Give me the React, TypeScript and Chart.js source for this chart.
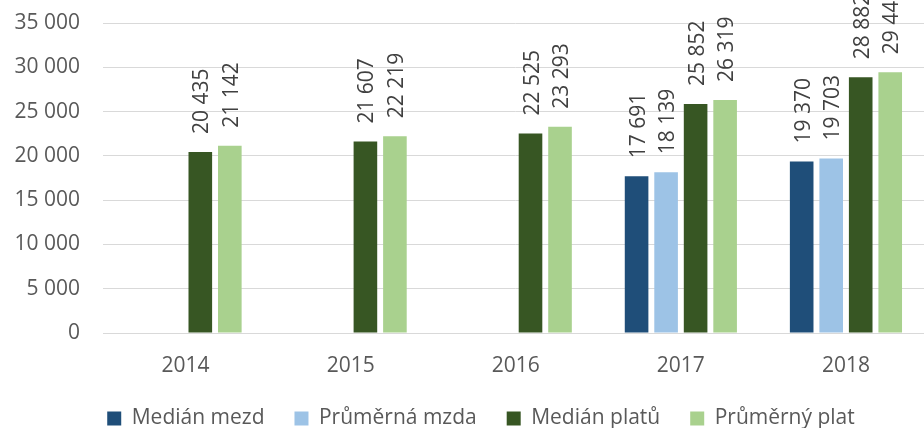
import { useEffect, useRef } from 'react';
import { Chart, registerables } from 'chart.js';

Chart.register(...registerables);

const categories = ['2014', '2015', '2016', '2017', '2018'];
const medianMezd = [null, null, null, 17691, 19370];
const prumernaMzda = [null, null, null, 18139, 19703];
const medianPlatu = [20435, 21607, 22525, 25852, 28882];
const prumernyPlat = [21142, 22219, 23293, 26319, 29446];
const seriesNames = ['Medián mezd', 'Průměrná mzda', 'Medián platů', 'Průměrný plat'];
const seriesColors = ['#1F4E79', '#9DC3E6', '#375623', '#A9D18E'];
const yMin = 0;
const yMax = 35000;
const yStep = 5000;

const FONT = '"Open Sans", Lato, sans-serif';
const FONT_SIZE = 21;

const fmt = (v: number) => String(Math.round(v)).replace(/\B(?=(\d{3})+(?!\d))/g, ' ');

const labelPlugin = {
  id: 'barValueLabels',
  afterDatasetsDraw(chart: any) {
    const ctx = chart.ctx;
    ctx.save();
    ctx.font = `${FONT_SIZE}px ${FONT}`;
    ctx.fillStyle = '#404040';
    ctx.textAlign = 'left';
    ctx.textBaseline = 'alphabetic';
    chart.data.datasets.forEach((ds: any, i: number) => {
      const meta = chart.getDatasetMeta(i);
      meta.data.forEach((bar: any, j: number) => {
        const v = ds.data[j];
        if (v === null || v === undefined) return;
        ctx.save();
        ctx.translate(bar.x + 8, bar.y - 18);
        ctx.rotate(-Math.PI / 2);
        ctx.fillText(fmt(v), 0, 0);
        ctx.restore();
      });
    });
    ctx.restore();
  },
};

export default function App() {
  const ref = useRef<HTMLCanvasElement>(null);
  useEffect(() => {
    document.body.style.margin = '0';
    const seriesData = [medianMezd, prumernaMzda, medianPlatu, prumernyPlat];
    const chart = new Chart(ref.current as HTMLCanvasElement, {
      type: 'bar',
      data: {
        labels: categories,
        datasets: seriesNames.map((name, i) => ({
          label: name,
          data: seriesData[i] as any,
          backgroundColor: seriesColors[i],
          borderWidth: 0,
          barPercentage: 0.8,
          categoryPercentage: 0.715,
        })),
      },
      options: {
        animation: false,
        responsive: false,
        devicePixelRatio: 1,
        layout: { padding: { top: 23, bottom: -11, left: 0, right: 0 } },
        plugins: {
          tooltip: { enabled: false },
          legend: {
            position: 'bottom',
            labels: {
              boxWidth: 14,
              boxHeight: 14,
              padding: 30,
              color: '#595959',
              font: { family: FONT, size: FONT_SIZE },
            },
          },
        },
        scales: {
          x: {
            grid: { display: false },
            border: { display: true, color: '#D9D9D9', width: 1 },
            ticks: {
              color: '#595959',
              font: { family: FONT, size: FONT_SIZE },
              padding: 12,
              maxRotation: 0,
            },
            afterFit: (s: any) => {
              s.height = 45;
            },
          },
          y: {
            min: yMin,
            max: yMax,
            grid: { color: '#D9D9D9', lineWidth: 1, drawTicks: false },
            border: { display: false },
            ticks: {
              stepSize: yStep,
              color: '#595959',
              font: { family: FONT, size: FONT_SIZE },
              padding: 23,
              callback: (v: any) => fmt(Number(v)),
            },
            afterFit: (s: any) => {
              s.width = 103;
              s.paddingTop = 0;
              s.paddingBottom = 0;
            },
          },
          yRight: {
            position: 'right',
            display: true,
            grid: { display: false, drawTicks: false },
            border: { display: false },
            ticks: { display: false },
            afterFit: (s: any) => {
              s.width = 33.5;
              s.paddingTop = 0;
              s.paddingBottom = 0;
            },
          },
        },
      },
      plugins: [labelPlugin],
    } as any);
    return () => chart.destroy();
  }, []);
  return (
    <div style={{ width: 924, height: 428, overflow: 'hidden', position: 'relative' }}>
      <canvas ref={ref} width={962} height={428} style={{ width: 962, height: 428, display: 'block' }} />
    </div>
  );
}
